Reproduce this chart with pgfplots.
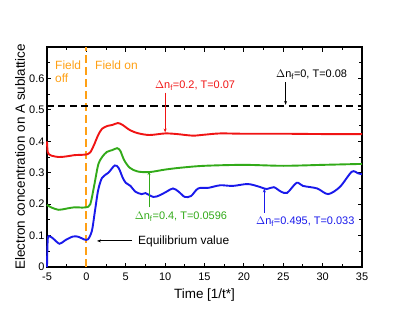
\documentclass[border=0pt]{standalone}
\usepackage{pgfplots}
\pgfplotsset{compat=1.18}
\usepackage{fontspec}
\setmainfont{Liberation Sans}
\usetikzlibrary{arrows.meta}
\definecolor{cred}{RGB}{240,20,20}
\definecolor{cgreen}{RGB}{50,170,25}
\definecolor{cblue}{RGB}{25,25,235}
\definecolor{corange}{RGB}{255,160,20}
\begin{document}
\begin{tikzpicture}
\path[use as bounding box] (-47bp,-48bp) rectangle (360bp,267bp);
\begin{axis}[
  scale only axis, width=315bp, height=220bp,
  xmin=-5, xmax=35, ymin=0, ymax=0.7,
  axis line style={line width=1.6bp},
  tick style={black, line width=0.9bp},
  tick align=inside,
  major tick length=4.5bp, minor tick length=3bp,
  xtick={-5,0,...,35}, minor xtick={-2.5,2.5,...,32.5},
  ytick={0,0.1,...,0.6}, minor ytick={0.05,0.15,...,0.65},
  yticklabels={0,0.1,0.2,0.3,0.4,0.5,0.6},
  xticklabels={-5,0,5,10,15,20,25,30,35},
  ticklabel style={font=\fontsize{11}{13}\selectfont},
  yticklabel style={xshift=1bp},
  xticklabel style={yshift=-2bp},
  /pgf/number format/assume math mode=true,
  xlabel={Time [1/t*]},
  ylabel={Electron concentration on A sublattice},
  label style={font=\fontsize{13.5}{15}\selectfont},
  xlabel style={at={(axis description cs:0.5,-0.127)}, anchor=center},
  ylabel style={at={(axis description cs:-0.0857,0.5)}, anchor=center, rotate=0},
  clip=false,
]
\addplot[corange, line width=2bp, dash pattern=on 8bp off 4bp] coordinates {(0,0) (0,0.7)};
\addplot[black, line width=2bp, dash pattern=on 7bp off 4.5bp] coordinates {(-5,0.513) (35,0.513)};
\addplot[cred, line width=1.9bp, smooth, tension=0.5] coordinates {
(-5,0.40) (-4.9,0.365) (-4.5,0.355) (-3.5,0.35) (-2.5,0.352) (-1.5,0.356) (-0.5,0.357) (0,0.358) (0.5,0.365) (1,0.39) (1.5,0.42) (2,0.44) (2.7,0.449) (3.3,0.452) (4,0.458) (4.6,0.452) (5.5,0.436) (6.5,0.426) (8,0.42) (10,0.425) (11.5,0.423) (13.5,0.418) (15,0.421) (17,0.425) (20,0.424) (25,0.424) (30,0.423) (35,0.423)};
\addplot[cgreen, line width=1.9bp, smooth, tension=0.5] coordinates {
(-5,0.198) (-4.5,0.19) (-3.5,0.182) (-2.5,0.186) (-1.5,0.19) (-0.5,0.189) (0,0.19) (0.5,0.2) (1,0.26) (1.5,0.325) (2,0.35) (2.6,0.366) (3.3,0.372) (3.9,0.378) (4.3,0.37) (4.8,0.34) (5.5,0.316) (6.5,0.304) (8,0.302) (10,0.31) (12,0.316) (15,0.322) (20,0.325) (25,0.322) (30,0.325) (35,0.328)};
\addplot[cblue, line width=1.9bp, smooth, tension=0.5] coordinates {
(-5,0.0) (-4.9,0.09) (-4.6,0.097) (-4.2,0.09) (-3.4,0.074) (-2.7,0.085) (-1.7,0.097) (-1,0.096) (-0.3,0.088) (0.2,0.088) (0.7,0.115) (1.1,0.18) (1.5,0.245) (2,0.284) (2.8,0.3) (3.6,0.323) (4.1,0.315) (4.6,0.285) (5,0.268) (5.6,0.258) (6.2,0.24) (7,0.232) (7.5,0.235) (8.5,0.223) (9.3,0.228) (10.2,0.24) (11,0.25) (11.7,0.24) (12.5,0.223) (13.3,0.226) (14.2,0.25) (15.5,0.252) (17,0.26) (18.6,0.258) (20.5,0.264) (22,0.255) (22.9,0.248) (23.8,0.254) (24.7,0.24) (25.5,0.236) (26.7,0.268) (27.5,0.258) (29.3,0.25) (30.7,0.232) (32.2,0.255) (33.7,0.303) (34.5,0.298) (35,0.295)};
% annotations
\node[corange, anchor=west, align=left, inner sep=0pt, font=\fontsize{12}{13}\selectfont] at (axis cs:-3.98,0.622) {Field\\off};
\node[corange, anchor=west, inner sep=0pt, font=\fontsize{12}{13}\selectfont] at (axis cs:1.1,0.643) {Field on};
\node[cred, font=\fontsize{11}{12}\selectfont] at (axis cs:13.8,0.578) {$\Delta$n$_\mathrm{f}$=0.2, T=0.07};
\draw[cred, line width=0.9bp, -{Stealth[length=4bp,width=3bp]}] (axis cs:10,0.555) -- (axis cs:10,0.428);
\node[black, font=\fontsize{11}{12}\selectfont] at (axis cs:28.6,0.613) {$\Delta$n$_\mathrm{f}$=0, T=0.08};
\draw[black, line width=0.9bp, -{Stealth[length=4bp,width=3bp]}] (axis cs:25.3,0.588) -- (axis cs:25.3,0.516);
\node[cgreen, font=\fontsize{11}{12}\selectfont] at (axis cs:12.0,0.160) {$\Delta$n$_\mathrm{f}$=0.4, T=0.0596};
\draw[cgreen, line width=0.9bp, -{Stealth[length=4bp,width=3bp]}] (axis cs:7.95,0.19) -- (axis cs:7.95,0.305);
\node[cblue, font=\fontsize{11}{12}\selectfont] at (axis cs:27.8,0.143) {$\Delta$n$_\mathrm{f}$=0.495, T=0.033};
\draw[cblue, line width=0.9bp, -{Stealth[length=4bp,width=3bp]}] (axis cs:22.6,0.172) -- (axis cs:22.6,0.25);
\node[black, anchor=west, inner sep=0pt, font=\fontsize{12}{13}\selectfont] at (axis cs:6.55,0.083) {Equilibrium value};
\draw[black, line width=0.9bp, -{Stealth[length=4bp,width=3bp]}] (axis cs:5.8,0.083) -- (axis cs:1.35,0.083);
\end{axis}
\end{tikzpicture}
\end{document}
